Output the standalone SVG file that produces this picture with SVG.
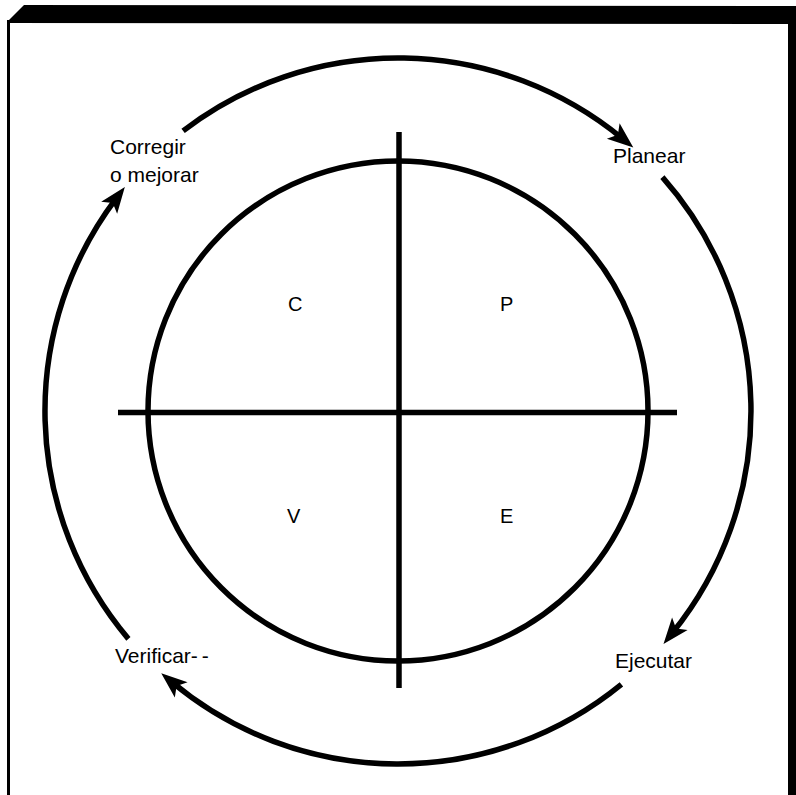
<svg xmlns="http://www.w3.org/2000/svg" width="796" height="795" viewBox="0 0 796 795">
<style>
.ln{fill:none;stroke:#000;stroke-width:5.5}
.arc{fill:none;stroke:#000;stroke-width:5.5;marker-end:url(#ah)}
.lbl{font-family:"Liberation Sans",Arial,sans-serif;font-size:21px;fill:#000}
.q{font-family:"Liberation Sans",Arial,sans-serif;font-size:20px;fill:#000}
</style>
<defs>
<marker id="ah" markerUnits="userSpaceOnUse" markerWidth="34" markerHeight="26" refX="12" refY="0" viewBox="-2 -13 34 26" orient="auto">
<path d="M0,-10 L26,0 L0,10 L6,0 Z" fill="#000"/>
</marker>
</defs>
<rect width="796" height="795" fill="#fff"/>
<g id="frame">
<polygon points="7,22 24,5 796,6 796,24 7,23" fill="#000"/>
<rect x="788" y="6" width="8" height="789" fill="#000"/>
<rect x="7" y="20" width="3" height="775" fill="#000"/>
</g>
<g id="circle">
<circle class="ln" cx="398" cy="411" r="250"/>
</g>
<g id="axes">
<line class="ln" x1="399" y1="132" x2="399" y2="688"/>
<line class="ln" x1="118" y1="412.5" x2="677" y2="412.5"/>
</g>
<g id="quadrants">
<text class="q" x="288" y="311">C</text>
<text class="q" x="500" y="311">P</text>
<text class="q" x="287" y="523">V</text>
<text class="q" x="500" y="523">E</text>
</g>
<g id="connectors">
<path class="arc" d="M183.1,130.9 A353,353 0 0 1 622.5,138.6"/>
<path class="arc" d="M662.4,177.1 A353,353 0 0 1 672.3,633.1"/>
<path class="arc" d="M621.4,684.3 A353,353 0 0 1 172.0,682.2"/>
<path class="arc" d="M128.4,638.9 A353,353 0 0 1 116.4,198.1"/>
</g>
<g id="planear"><text class="lbl" x="613" y="163">Planear</text></g>
<g id="ejecutar"><text class="lbl" x="615" y="668">Ejecutar</text></g>
<g id="verificar"><text class="lbl" x="115" y="663">Verificar-<tspan dx="4">-</tspan></text></g>
<g id="corregir"><text class="lbl" x="110" y="154">Corregir</text><text class="lbl" x="110" y="182">o mejorar</text></g>
</svg>
